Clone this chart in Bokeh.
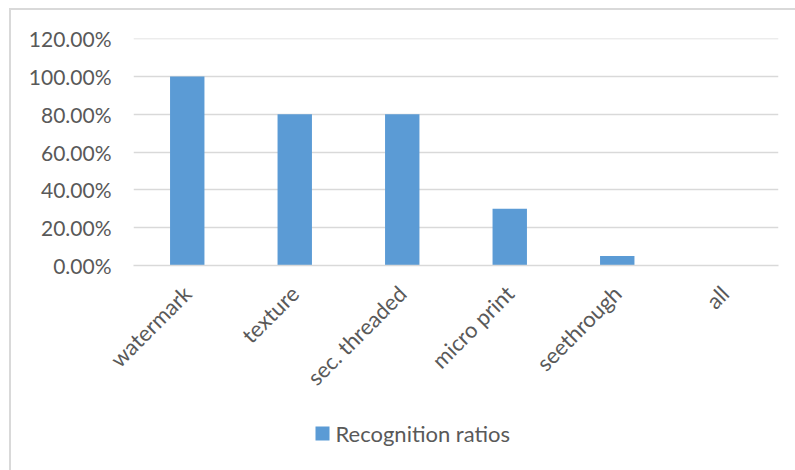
import math
from bokeh.plotting import figure
from bokeh.layouts import column
from bokeh.core.properties import value
from bokeh.models import (ColumnDataSource, NumeralTickFormatter, FixedTicker,
                          Range1d, FactorRange)
from bokeh.embed import file_html
from bokeh.resources import INLINE

categories = ["watermark", "texture", "sec. threaded", "micro print", "seethrough", "all"]
ratios = [1.00, 0.80, 0.80, 0.30, 0.05, 0.0]
y_ticks = [0.0, 0.2, 0.4, 0.6, 0.8, 1.0, 1.2]
series_name = "Recognition ratios"

FONT = "Lato"
TXT = "#595959"
GRID = "#D9D9D9"
BAR = "#5B9BD5"
FS = "21px"
FS_X = "22px"

src = ColumnDataSource(dict(cat=categories, val=ratios))

p = figure(width=784, height=400, x_range=FactorRange(*categories, range_padding=0),
           y_range=Range1d(0, 1.2005), output_backend="svg", toolbar_location=None,
           min_border_left=122, min_border_right=17, min_border_top=28, min_border_bottom=145)
p.outline_line_color = None
p.background_fill_color = "white"
p.border_fill_color = "white"

r = p.vbar(x="cat", top="val", width=0.32, source=src, fill_color=BAR, line_color=None)

p.xgrid.grid_line_color = None
p.ygrid.grid_line_color = GRID
p.ygrid.grid_line_width = 1.5
p.ygrid.ticker = FixedTicker(ticks=y_ticks)

p.yaxis.ticker = FixedTicker(ticks=y_ticks)
p.yaxis.formatter = NumeralTickFormatter(format="0.00%")
p.yaxis.axis_line_color = None
p.yaxis.major_tick_line_color = None
p.yaxis.minor_tick_line_color = None
p.yaxis.major_tick_out = 0
p.yaxis.major_label_standoff = 22
p.yaxis.major_label_text_font = FONT
p.yaxis.major_label_text_font_size = FS
p.yaxis.major_label_text_color = TXT

p.xaxis.axis_line_color = GRID
p.xaxis.axis_line_width = 1.5
p.xaxis.major_tick_line_color = None
p.xaxis.minor_tick_line_color = None
p.xaxis.major_tick_out = 0
p.xaxis.major_label_orientation = math.pi / 4
p.xaxis.major_label_standoff = 24
p.xaxis.major_label_text_font = FONT
p.xaxis.major_label_text_font_size = FS_X
p.xaxis.major_label_text_color = TXT

# legend strip below the chart (pixel-unit ranges, frame aligned with the chart's frame)
q = figure(width=784, height=60, x_range=Range1d(0, 645), y_range=Range1d(0, 60),
           output_backend="svg", toolbar_location=None, x_axis_type=None, y_axis_type=None,
           min_border_left=122, min_border_right=17, min_border_top=0, min_border_bottom=0)
q.outline_line_color = None
q.grid.visible = False
q.background_fill_color = "white"
q.border_fill_color = "white"
q.rect(x=[189], y=[37], width=14, height=14, width_units="screen", height_units="screen",
       fill_color=BAR, line_color=None)
q.text(x=[202], y=[37], text=[series_name], text_font=value(FONT), text_font_size=FS_X,
       text_color=TXT, text_baseline="middle", text_align="left")

layout = column(p, q, spacing=0)
layout.margin = (8, 0, 0, 9)
layout.styles = {"border-left": "2px solid #D9D9D9", "border-top": "2px solid #D9D9D9"}

open("out.html", "w").write(file_html(layout, INLINE))
